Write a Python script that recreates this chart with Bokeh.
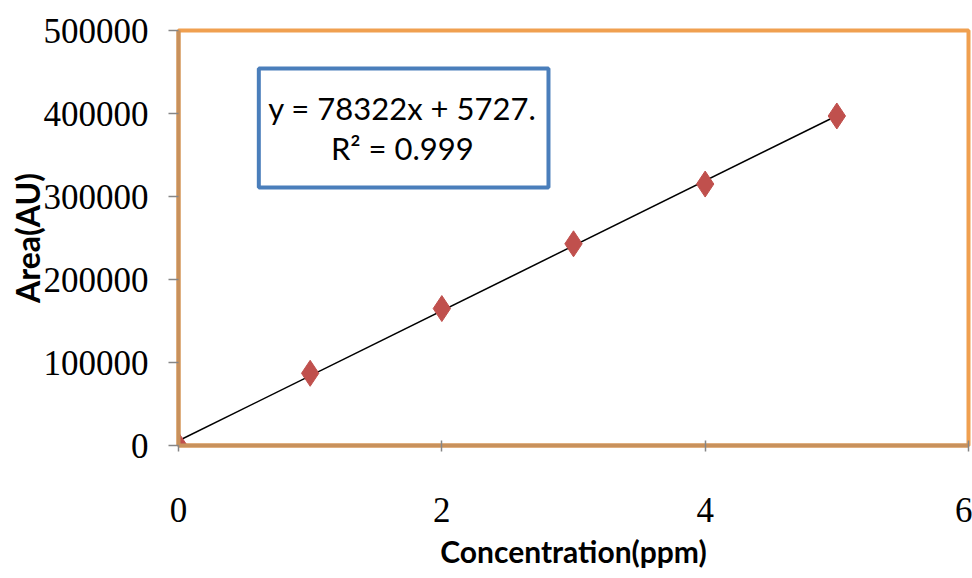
from bokeh.plotting import figure
from bokeh.models import Range1d, FixedTicker, NumeralTickFormatter, Label, BoxAnnotation
from bokeh.embed import file_html
from bokeh.resources import INLINE

# ---- data ----
concentration = [0, 1, 2, 3, 4, 5]
area = [0, 87000, 165000, 243000, 315000, 397000]
slope = 78322
intercept = 5727
x_ticks = [0, 2, 4, 6]
y_ticks = [0, 100000, 200000, 300000, 400000, 500000]
eq_text = "y = 78322x + 5727."
r2_text = "R\u00b2 = 0.999"
x_title = "Concentration(ppm)"
y_title = "Area(AU)"

p = figure(width=972, height=578, output_backend="svg", toolbar_location=None,
           x_range=Range1d(0, 6), y_range=Range1d(0, 500000),
           min_border_left=178, min_border_right=4, min_border_top=30, min_border_bottom=133)

p.background_fill_color = "white"
p.border_fill_color = "white"
p.xgrid.visible = False
p.ygrid.visible = False
p.outline_line_color = "#F0A050"
p.outline_line_width = 4

# axes
for ax in (p.xaxis[0], p.yaxis[0]):
    ax.axis_line_color = "#C8915C"
    ax.axis_line_width = 4
    ax.major_tick_line_color = "#868686"
    ax.major_tick_line_width = 1.5
    ax.minor_tick_line_color = None
    ax.major_label_text_font = "Liberation Serif"
    ax.major_label_text_font_size = "35px"
    ax.major_label_text_color = "black"
    ax.axis_label_text_font = "Lato"
    ax.axis_label_text_font_style = "bold"
    ax.axis_label_text_color = "black"

p.xaxis.ticker = FixedTicker(ticks=x_ticks)
p.yaxis.ticker = FixedTicker(ticks=y_ticks)
p.yaxis.formatter = NumeralTickFormatter(format="0")
p.xaxis.major_tick_in = 5
p.xaxis.major_tick_out = 6
p.xaxis.major_label_standoff = 46
p.yaxis.major_tick_in = 0
p.yaxis.major_tick_out = 10
p.yaxis.major_label_standoff = 20
p.xaxis.axis_label = x_title
p.yaxis.axis_label = y_title
p.xaxis.axis_label_text_font_size = "30px"
p.yaxis.axis_label_text_font_size = "32px"
p.xaxis.axis_label_standoff = 8
p.yaxis.axis_label_standoff = -6

# trend line
tx = [min(concentration), max(concentration)]
ty = [slope * v + intercept for v in tx]
p.line(tx, ty, line_color="black", line_width=1.5)

# points
p.scatter(concentration, area, marker="diamond", size=26,
          fill_color="#C0504D", line_color="#C0504D")

# equation box
box = BoxAnnotation(left=0.61, right=2.81, bottom=310800, top=454200,
                    fill_color="white", fill_alpha=1.0,
                    line_color="#4A7EBB", line_alpha=1.0, line_width=4)
p.add_layout(box)
p.add_layout(Label(x=1.70, y=407000, text=eq_text, text_align="center",
                   text_baseline="middle", text_font="Lato", text_font_size="31px",
                   text_color="black"))
p.add_layout(Label(x=1.70, y=358000, text=r2_text, text_align="center",
                   text_baseline="middle", text_font="Lato", text_font_size="31px",
                   text_color="black"))

open("out.html", "w").write(file_html(p, INLINE))
